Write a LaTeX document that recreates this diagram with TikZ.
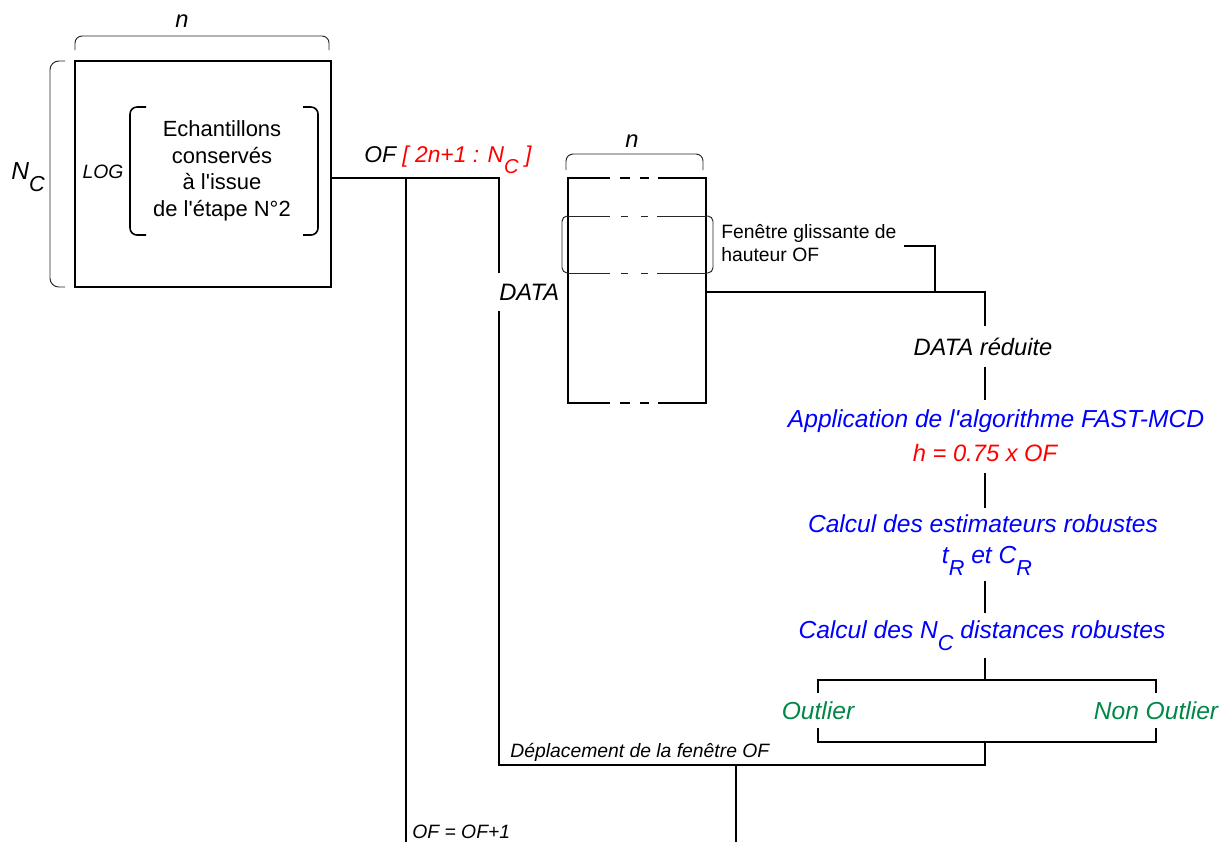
\documentclass[tikz,border=0pt]{standalone}
\usepackage{fontspec}
\newfontfamily\diagfont{Liberation Sans}
\definecolor{stepblue}{RGB}{0,0,255}
\definecolor{stepred}{RGB}{255,0,0}
\definecolor{outgreen}{RGB}{0,135,70}
\newcommand\lowidx[1]{\raisebox{-0.95ex}{\scalebox{0.88}{#1}}}

\begin{document}
\begin{tikzpicture}[x=0.02cm, y=-0.02cm, every node/.style={inner sep=0pt},
	flow/.style={line width=1.1pt}, thinline/.style={line width=0.55pt, black!85},
	lbl/.style={font=\diagfont\fontsize{13.5pt}{16pt}\selectfont\itshape},
	blutxt/.style={font=\diagfont\fontsize{14pt}{16pt}\selectfont\itshape, text=stepblue},
	grntxt/.style={font=\diagfont\fontsize{14pt}{16pt}\selectfont\itshape, text=outgreen, inner ysep=4.5pt},
	smalltxt/.style={font=\diagfont\fontsize{11pt}{13pt}\selectfont\itshape}]
	\useasboundingbox (0,0) rectangle (1222,842);
	\node[draw, flow, minimum width=5.12cm, minimum height=4.52cm] (logbox) at (203,174) {};
	\node[font=\diagfont\fontsize{12.5pt}{15.1pt}\selectfont, align=center] (kept) at (222,171) {Echantillons\\conservés\\à l'issue\\de l'étape N°2};
	\node[lbl, font=\diagfont\fontsize{11pt}{13pt}\selectfont\itshape, anchor=base] (log) at (103,178) {LOG};
	\node[lbl, font=\diagfont\fontsize{14pt}{16pt}\selectfont\itshape, anchor=base west] (nc) at (11,179) {N\lowidx{C}};
	\node[lbl, anchor=base] (ntop) at (182,27) {n};
	\node[lbl, anchor=base] (nwin) at (632,147) {n};
	\node[lbl, font=\diagfont\fontsize{13pt}{15pt}\selectfont\itshape, anchor=base west] (ofrange) at (364,162) {OF \textcolor{stepred}{[ 2n+1 : N\lowidx{C} ]}};
	\node[lbl, anchor=base west, inner ysep=6pt] (data) at (499,300) {DATA};
	\node[font=\diagfont\fontsize{11pt}{13pt}\selectfont, align=left, anchor=north west] (wintxt) at (721,224) {Fenêtre glissante de\\hauteur OF};
	\node[lbl, anchor=base, inner ysep=6.5pt] (reduced) at (983,355) {DATA réduite};
	\node[blutxt, anchor=base, inner ysep=5pt] (app) at (996,427) {Application de l'algorithme FAST-MCD};
	\node[lbl, text=stepred, anchor=base, inner ysep=6.5pt] (hval) at (985,461) {h = 0.75 x OF};
	\node[blutxt, anchor=base, inner ysep=3.5pt] (est) at (983,532) {Calcul des estimateurs robustes};
	\node[blutxt, anchor=base, inner ysep=3pt] (tc) at (987,563) {t\lowidx{R} et C\lowidx{R}};
	\node[blutxt, anchor=base, inner ysep=4pt] (dist) at (982,638) {Calcul des N\lowidx{C} distances robustes};
	\node[grntxt, anchor=base] (outl) at (818,719) {Outlier};
	\node[grntxt, anchor=base] (nonoutl) at (1156,719) {Non Outlier};
	\node[smalltxt, anchor=base west] (shift) at (510,757) {Déplacement de la fenêtre OF};
	\node[smalltxt, anchor=base west] (ofinc) at (412,838) {OF = OF+1};
	\coordinate (ofsplit) at (406,178);
	\coordinate (loopend) at (406,842);
	\coordinate (shiftpt) at (736,765);
	\coordinate (dataout) at (706,292);
	\coordinate (winhook) at (904,246);
	\coordinate (winjoin) at (935,292);
	\coordinate (spine) at (985,292);
	\coordinate (classtop) at (985,680);
	\coordinate (classbot) at (985,742);
	% braces
	\draw[thinline, rounded corners=4pt] (75,50) |- (202,36) -| (329,50);
	\draw[thinline, rounded corners=4pt] (566,170) |- (634,154) -| (703,170);
	\draw[thinline, rounded corners=5pt] (65,61) -| (50,174) |- (65,287);
	\draw[line width=0.9pt, rounded corners=4pt] (146,107) -| (130,171) |- (146,235);
	\draw[line width=0.9pt, rounded corners=4pt] (303,107) -| (318,171) |- (303,235);
	% data block and sliding window
	\draw[flow] (610,178) -| (568,403) -- (610,403);
	\draw[flow] (658,178) -| (706,403) -- (658,403);
	\foreach \y in {178,403} \draw[flow] (620,\y) -- (630,\y) (640,\y) -- (649,\y);
	\foreach \y in {216,273} \draw[thinline] (568,\y) -- (610,\y) (621,\y) -- (628,\y) (641,\y) -- (648,\y) (657,\y) -- (706,\y);
	\draw[thinline, rounded corners=3pt] (568,216) -| (562,245) |- (568,273);
	\draw[thinline, rounded corners=3pt] (706,216) -| (713,245) |- (706,273);
	% connectors
	\draw[flow] (logbox.east |- ofsplit) -| (data.north west);
	\draw[flow] (ofsplit) -- (loopend);
	\draw[flow] (data.south west) |- (shiftpt) -| (classbot);
	\draw[flow] (shiftpt) -- (shiftpt |- loopend);
	\draw[flow] (dataout) -| (reduced.north -| spine);
	\draw[flow] (winhook) -| (winjoin);
	\draw[flow] (reduced.south -| spine) -- (app.north -| spine);
	\draw[flow] (hval.south -| spine) -- (est.north -| spine);
	\draw[flow] (tc.south -| spine) -- (dist.north -| spine);
	\draw[flow] (dist.south -| spine) -- (classtop);
	\draw[flow] (outl.north) |- (classtop) -| (nonoutl.north);
	\draw[flow] (outl.south) |- (classbot) -| (nonoutl.south);
\end{tikzpicture}
\end{document}
